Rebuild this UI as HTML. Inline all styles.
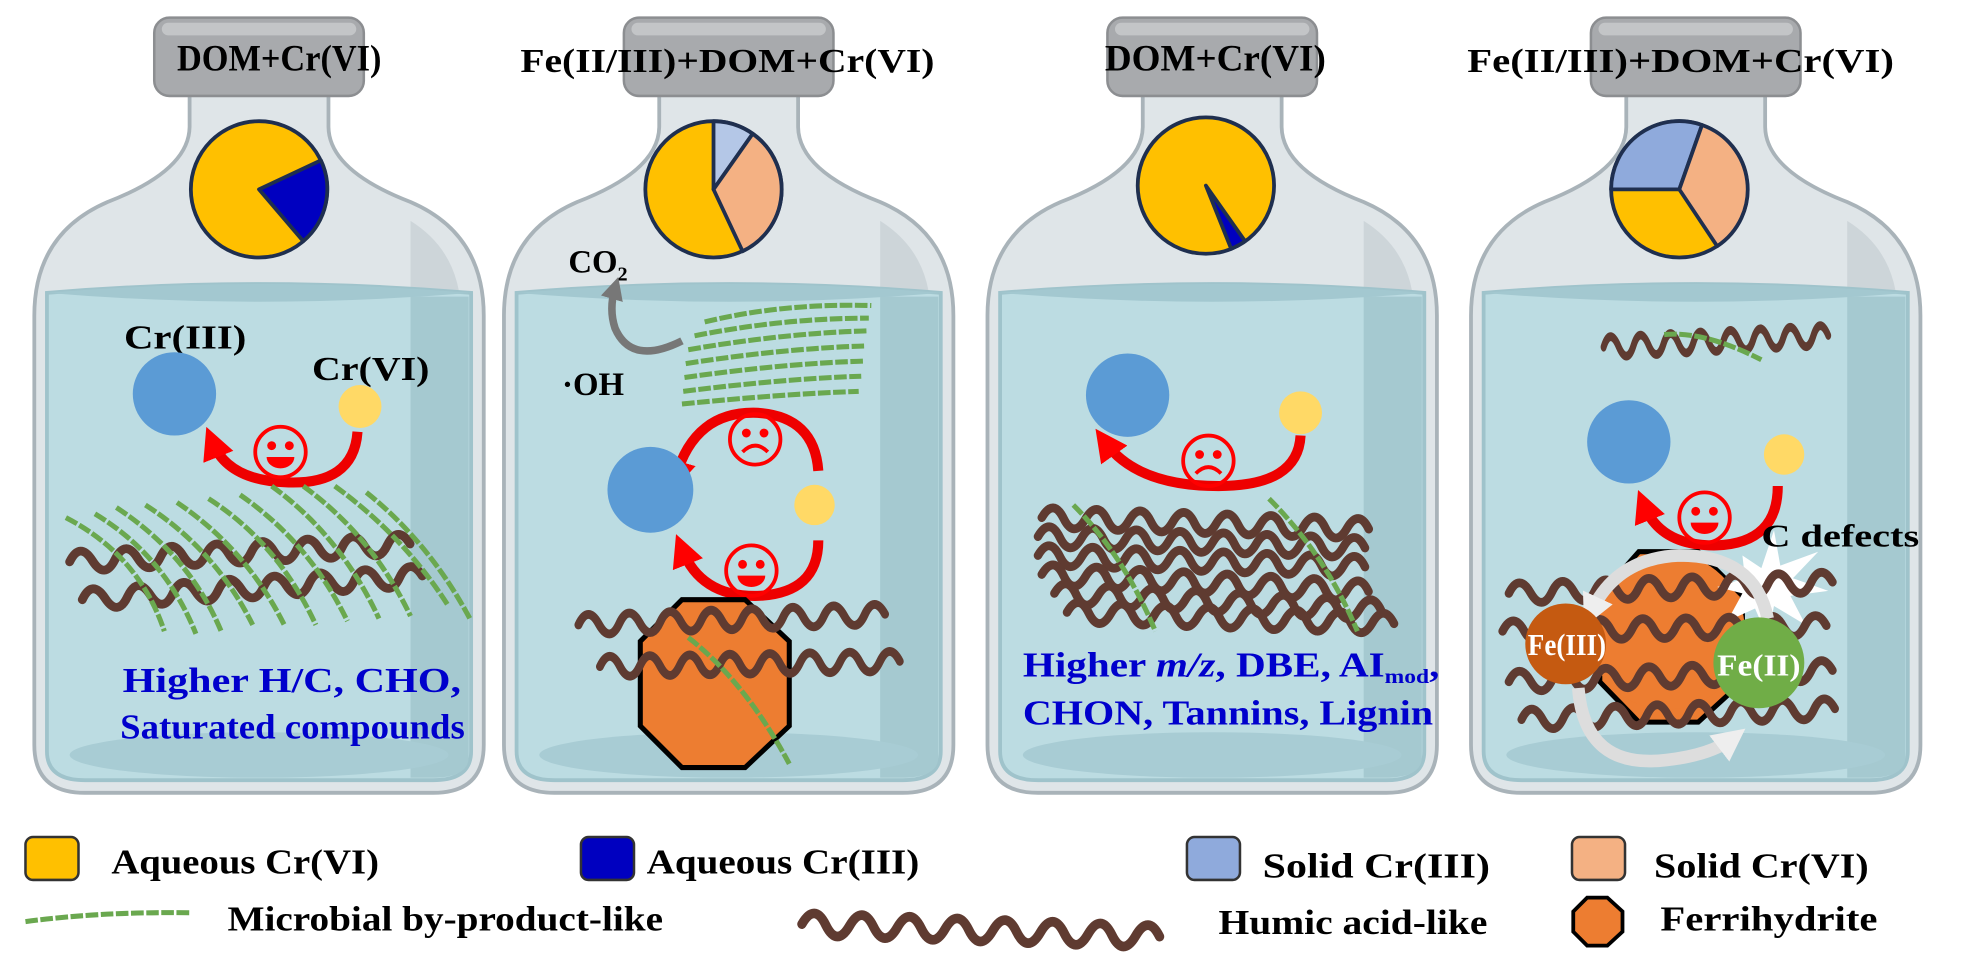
<!DOCTYPE html>
<html><head><meta charset="utf-8"><style>html,body{margin:0;padding:0;background:#fff}svg{display:block}</style></head>
<body>
<svg width="1980" height="962" viewBox="0 0 1568 762" xmlns="http://www.w3.org/2000/svg" font-family="'Liberation Serif',serif" font-weight="bold">
<defs>
<marker id="ar" viewBox="0 0 10 10" refX="5" refY="5" markerWidth="3.2" markerHeight="3.2" orient="auto"><path d="M0,0 L10,5 L0,10 z" fill="#f00"/></marker>
<marker id="ag" viewBox="0 0 10 10" refX="5" refY="5" markerWidth="3" markerHeight="3" orient="auto"><path d="M0,0 L10,5 L0,10 z" fill="#777"/></marker>
<marker id="aw" viewBox="0 0 10 10" refX="5" refY="5" markerWidth="2.6" markerHeight="2.6" orient="auto"><path d="M0,0 L10,5 L0,10 z" fill="#eee"/></marker>
<g id="bottle">
 <path d="M125,72 L125,100 Q125,135 60,160 Q2,185 2,250 L2,590 Q2,628 42,628 L318,628 Q358,628 358,590 L358,250 Q358,185 300,160 Q235,135 235,100 L235,72 Z" fill="#dfe5e8" stroke="#a9b3b9" stroke-width="3"/>
 <path d="M300,175 Q340,200 340,250 L340,600 Q340,615 320,618 L300,618 Z" fill="#cdd5d9"/>
 <path d="M12,232 Q180,218 348,232 L348,595 Q348,618 318,618 L42,618 Q12,618 12,595 Z" fill="#bcdce2" stroke="#9fc3cb" stroke-width="3"/>
 <path d="M300,235 L346,235 L346,600 Q346,615 320,616 L300,616 Z" fill="#a5c9d0"/>
 <path d="M12,232 Q180,218 348,232 Q180,246 12,232Z" fill="#a3c8d0"/>
 <ellipse cx="180" cy="598" rx="150" ry="18" fill="#a8ccd4"/>
 <rect x="97" y="14" width="166" height="62" rx="12" fill="#a8aaad" stroke="#8c8e91" stroke-width="2"/>
 <rect x="103" y="18" width="154" height="10" rx="5" fill="#c3c5c7"/>
</g>
<path id="w" d="M0,0 q9,-16 18,0 t18,0 t18,0 t18,0 t18,0 t18,0 t18,0 t18,0 t18,0 t18,0 t18,0 t18,0 t18,0 t18,0 t18,0" fill="none" stroke="#5f3b31" stroke-width="7" stroke-linecap="round"/>
<g id="happy"><circle r="20" fill="none" stroke="#f00" stroke-width="3"/><circle cx="-7" cy="-5" r="3.5" fill="#f00"/><circle cx="7" cy="-5" r="3.5" fill="#f00"/><path d="M-11,4 L11,4 A11,9 0 0 1 -11,4Z" fill="#f00"/></g>
<g id="sad"><circle r="20" fill="none" stroke="#f00" stroke-width="3"/><circle cx="-7" cy="-5" r="3.5" fill="#f00"/><circle cx="7" cy="-5" r="3.5" fill="#f00"/><path d="M-10,10 Q0,0 10,10" fill="none" stroke="#f00" stroke-width="3"/></g>
</defs>
<rect width="1568" height="762" fill="#fff"/>
<use href="#bottle" x="25" y="0"/>
<use href="#bottle" x="397" y="0"/>
<use href="#bottle" x="780" y="0"/>
<use href="#bottle" x="1163" y="0"/>

<g font-size="29" fill="#000">
<text x="140" y="56" textLength="162" lengthAdjust="spacingAndGlyphs">DOM+Cr(VI)</text>
<text x="412" y="57" font-size="27" textLength="328" lengthAdjust="spacingAndGlyphs">Fe(II/III)+DOM+Cr(VI)</text>
<text x="875" y="56" textLength="175" lengthAdjust="spacingAndGlyphs">DOM+Cr(VI)</text>
<text x="1162" y="57" font-size="27" textLength="338" lengthAdjust="spacingAndGlyphs">Fe(II/III)+DOM+Cr(VI)</text>
</g>

<g stroke="#1f2f4f" stroke-width="3" stroke-linejoin="round">
<circle cx="205" cy="150" r="54" fill="#ffc000"/>
<path d="M205,150 L254,127 A54,54 0 0 1 240,191 Z" fill="#0000c0"/>
<circle cx="565" cy="150" r="54" fill="#ffc000"/>
<path d="M565,150 L565,96 A54,54 0 0 1 596,106 Z" fill="#b4c7e7"/>
<path d="M565,150 L596,106 A54,54 0 0 1 588,199 Z" fill="#f4b183"/>
<circle cx="955" cy="147" r="54" fill="#ffc000"/>
<path d="M955,147 L986,191 A54,54 0 0 1 975,197 Z" fill="#0000c0"/>
<circle cx="1330" cy="150" r="54" fill="#ffc000"/>
<path d="M1330,150 L1276,150 A54,54 0 0 1 1348,99 Z" fill="#8faadc"/>
<path d="M1330,150 L1348,99 A54,54 0 0 1 1360,195 Z" fill="#f4b183"/>
</g>

<text x="98" y="276" font-size="27" textLength="97" lengthAdjust="spacingAndGlyphs">Cr(III)</text>
<circle cx="138" cy="312" r="33" fill="#5b9bd5"/>
<text x="247" y="301" font-size="27" textLength="93" lengthAdjust="spacingAndGlyphs">Cr(VI)</text>
<circle cx="285" cy="322" r="17" fill="#ffd966"/>
<path d="M283,342 Q280,385 225,382 Q180,380 168,350" fill="none" stroke="#e00" stroke-width="8" marker-end="url(#ar)"/>
<use href="#happy" x="222" y="358"/>
<use href="#w" transform="translate(55,445) rotate(-3)"/>
<use href="#w" transform="translate(65,475) rotate(-4)"/>
<g fill="none" stroke="#6aa84f" stroke-width="4" stroke-dasharray="10 2">
<path d="M52,410 Q110,440 130,500"/><path d="M75,407 Q130,440 155,502"/><path d="M92,402 Q150,440 175,500"/>
<path d="M115,400 Q170,435 200,495"/><path d="M140,398 Q195,435 225,495"/><path d="M165,395 Q220,430 250,495"/>
<path d="M190,392 Q245,430 275,492"/><path d="M215,385 Q270,425 300,490"/><path d="M240,385 Q295,425 325,488"/>
<path d="M265,385 Q320,425 355,480"/><path d="M290,390 Q340,430 372,490"/>
</g>
<g font-size="28" fill="#0000cc"><text x="97" y="548" textLength="268" lengthAdjust="spacingAndGlyphs">Higher H/C, CHO,</text><text x="95" y="585" textLength="273" lengthAdjust="spacingAndGlyphs">Saturated compounds</text></g>

<text x="450" y="216" font-size="26">CO<tspan font-size="16" dy="6">2</tspan></text>
<path d="M540,270 Q500,290 487,260 Q482,245 487,228" fill="none" stroke="#777" stroke-width="6" marker-end="url(#ag)"/>
<text x="445" y="313" font-size="26">·OH</text>
<g fill="none" stroke="#6aa84f" stroke-width="4" stroke-dasharray="10 2">
<path d="M558,255 Q620,240 690,242"/><path d="M550,266 Q620,252 688,252"/><path d="M545,277 Q620,264 688,262"/>
<path d="M543,288 Q620,276 686,274"/><path d="M542,299 Q620,288 684,286"/><path d="M541,310 Q620,300 682,298"/><path d="M540,320 Q620,312 680,310"/>
</g>
<path d="M648,373 Q645,330 600,327 Q550,325 535,378" fill="none" stroke="#e00" stroke-width="8" marker-end="url(#ar)"/>
<use href="#sad" x="598" y="348"/>
<circle cx="515" cy="388" r="34" fill="#5b9bd5"/>
<circle cx="645" cy="400" r="16" fill="#ffd966"/>
<path d="M648,428 Q648,470 600,472 Q555,473 540,435" fill="none" stroke="#e00" stroke-width="8" marker-end="url(#ar)"/>
<use href="#happy" x="595" y="452"/>
<polygon points="540,475 590,475 625,508 625,575 590,608 540,608 507,575 507,508" fill="#ed7d31" stroke="#000" stroke-width="4"/>
<use href="#w" transform="translate(458,495) rotate(-2) scale(0.9,1)"/>
<use href="#w" transform="translate(475,528) rotate(-1) scale(0.88,1)"/>
<path d="M545,505 Q590,540 625,605" fill="none" stroke="#6aa84f" stroke-width="4" stroke-dasharray="10 2"/>

<circle cx="893" cy="313" r="33" fill="#5b9bd5"/>
<circle cx="1030" cy="327" r="17" fill="#ffd966"/>
<path d="M1030,345 Q1028,385 965,385 Q900,385 875,350" fill="none" stroke="#e00" stroke-width="8" marker-end="url(#ar)"/>
<use href="#sad" x="957" y="365"/>
<use href="#w" transform="translate(825,410) rotate(2) scale(0.96,1)"/>
<use href="#w" transform="translate(822,425) rotate(2) scale(0.96,1)"/>
<use href="#w" transform="translate(822,440) rotate(2) scale(0.96,1)"/>
<use href="#w" transform="translate(825,455) rotate(3) scale(0.96,1)"/>
<use href="#w" transform="translate(835,470) rotate(3) scale(0.96,1)"/>
<use href="#w" transform="translate(845,485) rotate(2) scale(0.96,1)"/>
<g fill="none" stroke="#6aa84f" stroke-width="4" stroke-dasharray="10 2"><path d="M850,400 Q890,440 915,500"/><path d="M1005,395 Q1050,440 1075,500"/></g>
<g font-size="28" fill="#0000cc"><text x="810" y="536" textLength="330" lengthAdjust="spacingAndGlyphs">Higher <tspan font-style="italic">m/z</tspan>, DBE, AI<tspan font-size="16" dy="5">mod</tspan><tspan dy="-5">,</tspan></text><text x="810" y="574" textLength="325" lengthAdjust="spacingAndGlyphs">CHON, Tannins, Lignin</text></g>

<use href="#w" transform="translate(1270,275) rotate(-3) scale(0.66,1)"/>
<path d="M1318,265 Q1350,262 1395,285" fill="none" stroke="#6aa84f" stroke-width="4" stroke-dasharray="10 2"/>
<circle cx="1290" cy="350" r="33" fill="#5b9bd5"/>
<circle cx="1413" cy="360" r="16" fill="#ffd966"/>
<path d="M1408,385 Q1408,430 1360,432 Q1315,433 1302,400" fill="none" stroke="#e00" stroke-width="8" marker-end="url(#ar)"/>
<use href="#happy" x="1350" y="410"/>
<polygon points="1298,437 1345,437 1380,472 1380,540 1345,572 1298,572 1267,540 1267,472" fill="#ed7d31" stroke="#000" stroke-width="4"/>
<circle cx="1320" cy="500" r="62" fill="#ed7d31"/>
<polygon points="1380,440 1395,450 1405,420 1410,448 1440,437 1420,458 1448,468 1418,472 1430,495 1405,480 1400,505 1390,482 1368,492 1380,470 1360,465 1382,458" fill="#fff"/>
<use href="#w" transform="translate(1195,470) rotate(-2) scale(0.95,1)"/>
<use href="#w" transform="translate(1190,500) rotate(-1) scale(0.95,1)"/>
<use href="#w" transform="translate(1195,540) rotate(-2) scale(0.95,1)"/>
<use href="#w" transform="translate(1205,570) rotate(-2) scale(0.92,1)"/>
<path d="M1400,490 Q1390,440 1330,440 Q1280,442 1260,485" fill="none" stroke="#ddd" stroke-width="10" marker-end="url(#aw)"/>
<path d="M1250,545 Q1255,610 1320,602 Q1355,598 1372,585" fill="none" stroke="#ddd" stroke-width="10" marker-end="url(#aw)"/>
<circle cx="1240" cy="510" r="32" fill="#c55a11"/>
<circle cx="1393" cy="525" r="36" fill="#70ad47"/>
<text x="1395" y="433" font-size="25" textLength="125" lengthAdjust="spacingAndGlyphs">C defects</text>
<g fill="#fff" font-size="24"><text x="1210" y="519" textLength="62" lengthAdjust="spacingAndGlyphs">Fe(III)</text><text x="1360" y="535" textLength="66" lengthAdjust="spacingAndGlyphs">Fe(II)</text></g>

<g stroke="#333" stroke-width="2">
<rect x="20" y="663" width="42" height="34" rx="6" fill="#ffc000"/>
<rect x="460" y="663" width="42" height="34" rx="6" fill="#0000c0"/>
<rect x="940" y="663" width="42" height="34" rx="6" fill="#8faadc"/>
<rect x="1245" y="663" width="42" height="34" rx="6" fill="#f4b183"/>
</g>
<g font-size="28" fill="#000">
<text x="88" y="692" textLength="212" lengthAdjust="spacingAndGlyphs">Aqueous Cr(VI)</text>
<text x="512" y="692" textLength="216" lengthAdjust="spacingAndGlyphs">Aqueous Cr(III)</text>
<text x="1000" y="695" textLength="180" lengthAdjust="spacingAndGlyphs">Solid Cr(III)</text>
<text x="1310" y="695" textLength="170" lengthAdjust="spacingAndGlyphs">Solid Cr(VI)</text>
<text x="180" y="737" textLength="345" lengthAdjust="spacingAndGlyphs">Microbial by-product-like</text>
<text x="965" y="740" textLength="213" lengthAdjust="spacingAndGlyphs">Humic acid-like</text>
<text x="1315" y="737" textLength="172" lengthAdjust="spacingAndGlyphs">Ferrihydrite</text>
</g>
<path d="M20,730 Q80,722 150,723" fill="none" stroke="#6aa84f" stroke-width="4" stroke-dasharray="10 2"/>
<use href="#w" transform="translate(635,732) rotate(2) scale(1.05,1.1)"/>
<polygon points="1257,711 1273,711 1285,722 1285,738 1273,749 1257,749 1246,738 1246,722" fill="#ed7d31" stroke="#000" stroke-width="3"/>
</svg>
</body></html>
